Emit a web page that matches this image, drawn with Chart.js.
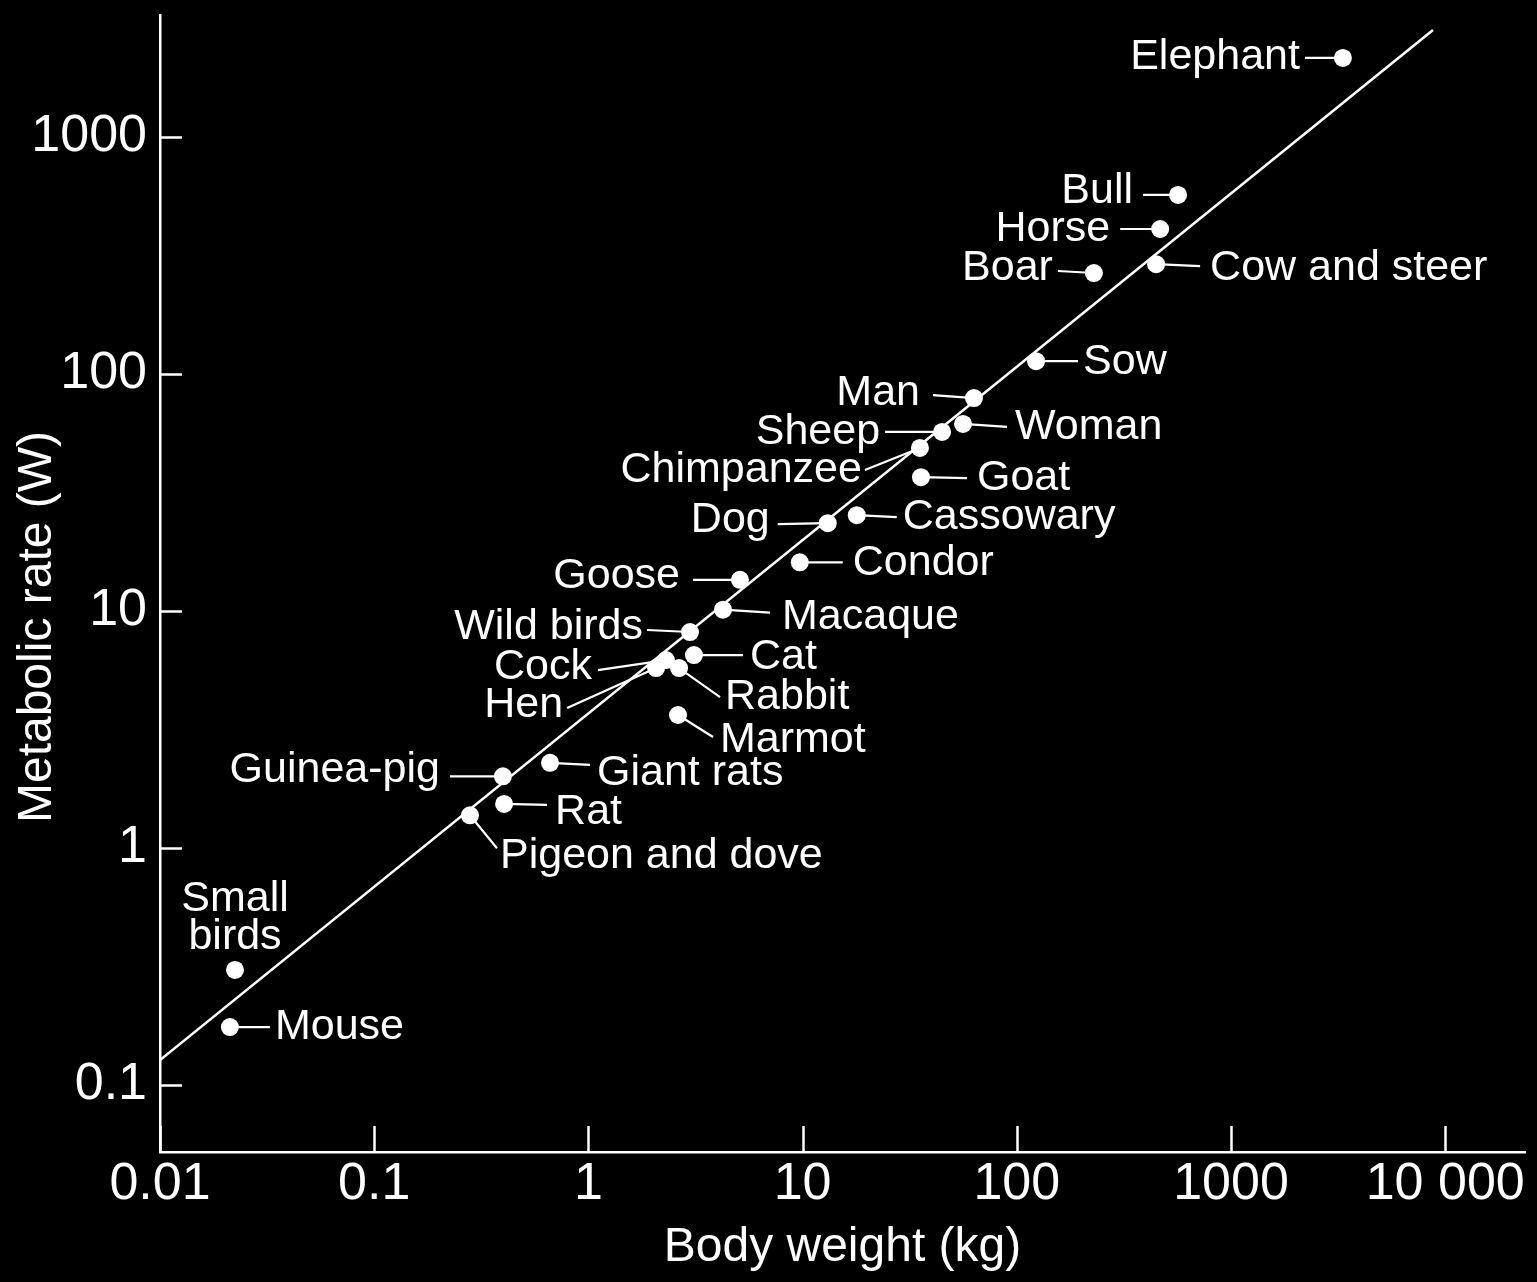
<!DOCTYPE html>
<html>
<head>
<meta charset="utf-8">
<title>Metabolic rate vs body weight</title>
<script src="https://cdn.jsdelivr.net/npm/chart.js@4/dist/chart.umd.min.js"></script>
<style>
  html, body { margin: 0; padding: 0; background: #000; }
  canvas { display: block; }
</style>
</head>
<body>
<canvas id="chart" width="1537" height="1282"></canvas>
<script>
// Animals and their measured values (body weight in kg, metabolic rate in W)
const animals = [
  'Elephant', 'Bull', 'Horse', 'Boar', 'Cow and steer', 'Sow', 'Man', 'Woman',
  'Sheep', 'Chimpanzee', 'Goat', 'Cassowary', 'Dog', 'Condor', 'Goose', 'Macaque',
  'Wild birds', 'Cat', 'Cock', 'Hen', 'Rabbit', 'Marmot', 'Giant rats', 'Guinea-pig',
  'Rat', 'Pigeon and dove', 'Small\nbirds', 'Mouse'
];
const bodyWeightKg = [
  3330, 566, 467, 229, 447, 123, 63.1, 56.1,
  44.8, 35.3, 35.7, 17.9, 13.1, 9.7, 5.1, 4.25,
  2.98, 3.11, 2.30, 2.07, 2.65, 2.62, 0.662, 0.399,
  0.404, 0.280, 0.0224, 0.0212
];
const metabolicRateW = [
  2150, 568, 408, 266, 290, 113, 78.9, 61.4,
  56.8, 48.6, 36.6, 25.3, 23.4, 16.0, 13.5, 10.1,
  8.13, 6.50, 6.19, 5.73, 5.73, 3.63, 2.28, 2.00,
  1.53, 1.37, 0.305, 0.175
];

// Fitted "mouse-to-elephant" line, given by its two end points
const fitWeightKg = [0.01, 8770];
const fitRateW = [0.127, 2820];

// Axis ticks
const xTickValues = [0.01, 0.1, 1, 10, 100, 1000, 10000];
const xTickLabels = ['0.01', '0.1', '1', '10', '100', '1000', '10 000'];
const yTickValues = [0.1, 1, 10, 100, 1000];
const yTickLabels = ['0.1', '1', '10', '100', '1000'];

// Callout placement in pixels relative to each dot:
// [leader end dx, leader end dy, text dx, text dy, text alignment]
const calloutLayout = {
  'Elephant':        [-38, 0, -43, -1, 'right'],
  'Bull':            [-35, 0, -45, -4, 'right'],
  'Horse':           [-40, 0, -50, 0, 'right'],
  'Boar':            [-36, -2, -41, -5, 'right'],
  'Cow and steer':   [44, 2, 54, 4, 'left'],
  'Sow':             [42, 0, 47, 1, 'left'],
  'Man':             [-41, -3, -54, -5, 'right'],
  'Woman':           [44, 3, 52, 3, 'left'],
  'Sheep':           [-57, 0, -62, 0, 'right'],
  'Chimpanzee':      [-55, 22, -58, 22, 'right'],
  'Goat':            [46, 1, 56, 1, 'left'],
  'Cassowary':       [40, 2, 46, 2, 'left'],
  'Dog':             [-50, 1, -58, -3, 'right'],
  'Condor':          [43, 0, 53, 1, 'left'],
  'Goose':           [-47, 0, -60, -4, 'right'],
  'Macaque':         [47, 3, 59, 7, 'left'],
  'Wild birds':      [-43, -2, -47, -5, 'right'],
  'Cat':             [49, 0, 56, 2, 'left'],
  'Cock':            [-68, 10, -74, 7, 'right'],
  'Hen':             [-89, 40, -93, 37, 'right'],
  'Rabbit':          [41, 29, 46, 29, 'left'],
  'Marmot':          [35, 22, 42, 25, 'left'],
  'Giant rats':      [40, 2, 47, 10, 'left'],
  'Guinea-pig':      [-53, 0, -63, -6, 'right'],
  'Rat':             [43, 1, 51, 8, 'left'],
  'Pigeon and dove': [27, 33, 30, 41, 'left'],
  'Small\nbirds':    [null, null, 0, -52, 'center'],
  'Mouse':           [40, 0, 45, 0, 'left']
};

const INK = '#ffffff';
const FAMILY = '"Liberation Sans", Arial, Helvetica, sans-serif';
Chart.defaults.font.family = FAMILY;
Chart.defaults.color = INK;

// Black page behind everything
const backdrop = {
  id: 'backdrop',
  beforeDraw(chart) {
    const ctx = chart.ctx;
    ctx.save();
    ctx.fillStyle = '#000';
    ctx.fillRect(0, 0, chart.width, chart.height);
    ctx.restore();
  }
};

// Tick marks pointing into the plot from both axes
const inwardTicks = {
  id: 'inwardTicks',
  afterDraw(chart) {
    const { ctx, chartArea: a, scales: { x, y } } = chart;
    ctx.save();
    ctx.strokeStyle = INK;
    ctx.lineWidth = 2.5;
    ctx.beginPath();
    y.ticks.forEach(t => {
      const py = Math.round(y.getPixelForValue(t.value)) + 0.5;
      ctx.moveTo(a.left, py);
      ctx.lineTo(a.left + 22, py);
    });
    x.ticks.forEach(t => {
      const px = Math.round(x.getPixelForValue(t.value)) + 0.5;
      ctx.moveTo(px, a.bottom);
      ctx.lineTo(px, a.bottom - 26);
    });
    ctx.stroke();
    ctx.restore();
  }
};

// Leader lines under the dots, names on top
const callouts = {
  id: 'callouts',
  beforeDatasetsDraw(chart) {
    const ctx = chart.ctx;
    const pts = chart.getDatasetMeta(1).data;
    ctx.save();
    ctx.strokeStyle = INK;
    ctx.lineWidth = 2.2;
    ctx.beginPath();
    animals.forEach((name, i) => {
      const lay = calloutLayout[name];
      if (!lay || lay[0] === null) return;
      const p = pts[i];
      ctx.moveTo(p.x, p.y);
      ctx.lineTo(p.x + lay[0], p.y + lay[1]);
    });
    ctx.stroke();
    ctx.restore();
  },
  afterDatasetsDraw(chart) {
    const ctx = chart.ctx;
    const pts = chart.getDatasetMeta(1).data;
    ctx.save();
    ctx.fillStyle = INK;
    ctx.font = '43px ' + FAMILY;
    ctx.textBaseline = 'middle';
    const lineGap = 38;
    animals.forEach((name, i) => {
      const lay = calloutLayout[name];
      if (!lay) return;
      const p = pts[i];
      const lines = name.split('\n');
      ctx.textAlign = lay[4];
      const y0 = p.y + lay[3] - (lines.length - 1) * lineGap / 2;
      lines.forEach((ln, k) => ctx.fillText(ln, p.x + lay[2], y0 + k * lineGap));
    });
    ctx.restore();
  }
};

// Rotated title for the vertical axis
const yTitle = {
  id: 'yTitle',
  afterDraw(chart) {
    const ctx = chart.ctx;
    ctx.save();
    ctx.translate(38, 627);
    ctx.rotate(-Math.PI / 2);
    ctx.fillStyle = INK;
    ctx.font = '48px ' + FAMILY;
    ctx.textAlign = 'center';
    ctx.textBaseline = 'middle';
    ctx.fillText('Metabolic rate (W)', 0, 0);
    ctx.restore();
  }
};

const fitLine = fitWeightKg.map((w, i) => ({ x: w, y: fitRateW[i] }));
const animalPoints = bodyWeightKg.map((w, i) => ({ x: w, y: metabolicRateW[i] }));

new Chart(document.getElementById('chart'), {
  type: 'scatter',
  data: {
    datasets: [
      {
        label: 'fit',
        data: fitLine,
        showLine: true,
        borderColor: INK,
        borderWidth: 2.6,
        pointRadius: 0,
        pointHoverRadius: 0
      },
      {
        label: 'animals',
        data: animalPoints,
        backgroundColor: INK,
        borderWidth: 0,
        pointRadius: 9,
        pointHoverRadius: 9
      }
    ]
  },
  options: {
    responsive: false,
    animation: false,
    devicePixelRatio: 1,
    layout: { padding: { top: 15, right: 12, bottom: 0, left: 0 } },
    plugins: {
      legend: { display: false },
      tooltip: { enabled: false }
    },
    events: [],
    scales: {
      x: {
        type: 'logarithmic',
        min: 0.01,
        max: 23580,
        afterBuildTicks: s => { s.ticks = xTickValues.map(v => ({ value: v })); },
        afterFit: s => { s.height = 130; s.paddingLeft = 0; s.paddingRight = 0; },
        grid: { display: false, drawTicks: false },
        border: { display: true, color: INK, width: 2.5 },
        ticks: {
          color: INK,
          font: { size: 52 },
          padding: 1,
          maxRotation: 0,
          autoSkip: false,
          callback: (v, i) => xTickLabels[i]
        },
        title: {
          display: true,
          text: 'Body weight (kg)',
          color: INK,
          font: { size: 48 },
          padding: { top: 0, bottom: 5 }
        }
      },
      y: {
        type: 'logarithmic',
        min: 0.052,
        max: 3263,
        afterBuildTicks: s => { s.ticks = yTickValues.map(v => ({ value: v })); },
        afterFit: s => { s.width = 160; s.paddingTop = 0; s.paddingBottom = 0; },
        grid: { display: false, drawTicks: false },
        border: { display: true, color: INK, width: 2.5 },
        ticks: {
          color: INK,
          font: { size: 52 },
          padding: 13,
          autoSkip: false,
          callback: (v, i) => yTickLabels[i]
        }
      }
    }
  },
  plugins: [backdrop, inwardTicks, callouts, yTitle]
});
</script>
</body>
</html>
